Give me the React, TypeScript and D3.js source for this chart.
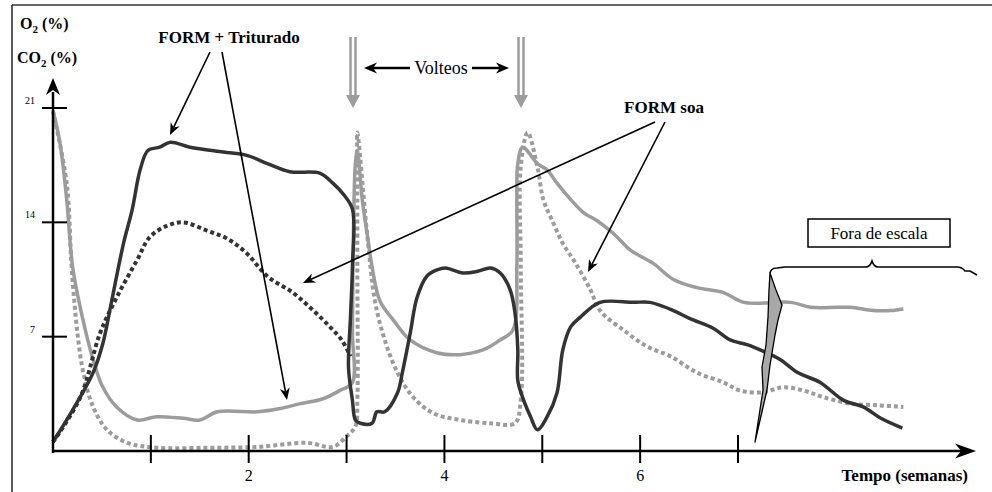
import * as d3 from "d3";

// Series values: [semana, %]
const trituradoCO2: [number, number][] = [
  [0, 0.55], [0.2, 2.5], [0.41, 4.8], [0.51, 6.6], [0.6, 9.2], [0.72, 12.7], [0.81, 14.8], [0.89, 17.2],
  [0.97, 18.4], [1.09, 18.6], [1.2, 18.9], [1.4, 18.6], [1.74, 18.3], [1.98, 18.1], [2.19, 17.6], [2.42, 17.1],
  [2.73, 17.0], [2.86, 16.4], [2.97, 15.7], [3.06, 14.8], [3.06, 11.3], [3.04, 8.2], [3.02, 5.1], [3.06, 3.1],
  [3.09, 1.9], [3.14, 1.7], [3.26, 1.7], [3.31, 2.4], [3.39, 2.4], [3.52, 3.55], [3.57, 4.8], [3.65, 7.2],
  [3.72, 9.4], [3.82, 10.7], [3.93, 11.1], [4.01, 11.2], [4.19, 10.9], [4.34, 11.0], [4.47, 11.2], [4.57, 10.9],
  [4.67, 9.9], [4.72, 8.5], [4.75, 6.2], [4.75, 4.3], [4.81, 3.1], [4.88, 2.1], [4.95, 1.3], [5.05, 2.1],
  [5.15, 3.55], [5.21, 6.2], [5.29, 7.6], [5.39, 8.2], [5.59, 9.1], [5.93, 9.1], [6.1, 9.1], [6.34, 8.6],
  [6.51, 8.1], [6.75, 7.5], [6.92, 6.8], [7.1, 6.5], [7.26, 6.1], [7.43, 5.6], [7.61, 4.8], [7.84, 4.2],
  [8.08, 3.1], [8.28, 2.7], [8.46, 2.0], [8.68, 1.4],
];

const soaCO2: [number, number][] = [
  [0, 0.55], [0.28, 3.3], [0.48, 7.2], [0.65, 9.4], [0.86, 11.7], [0.99, 13.1], [1.17, 13.8], [1.33, 14.0],
  [1.57, 13.5], [1.78, 13.0], [1.98, 12.1], [2.19, 10.7], [2.45, 9.7], [2.66, 8.6], [2.83, 7.6], [2.95, 6.8],
  [3.04, 5.8],
];

const trituradoO2: [number, number][] = [
  [0, 20.8], [0.07, 18.9], [0.14, 15.4], [0.2, 11.3], [0.3, 8.2], [0.41, 5.6], [0.51, 3.9], [0.65, 2.7],
  [0.86, 1.9], [1.06, 2.1], [1.33, 2.0], [1.5, 1.9], [1.68, 2.4], [2.09, 2.4], [2.32, 2.6], [2.53, 2.9],
  [2.76, 3.2], [2.93, 3.7], [3.06, 4.2], [3.06, 7.2], [3.07, 13.3], [3.09, 17.6], [3.11, 18.4], [3.16, 15.4],
  [3.21, 13.3], [3.26, 11.3], [3.34, 9.2], [3.48, 8.0], [3.65, 6.8], [3.93, 6.0], [4.16, 5.9], [4.4, 6.2],
  [4.57, 6.8], [4.7, 7.4], [4.74, 11.3], [4.74, 15.4], [4.75, 17.6], [4.8, 18.6], [4.95, 17.6], [5.05, 17.2],
  [5.15, 16.4], [5.29, 15.4], [5.42, 14.6], [5.56, 14.1], [5.73, 13.3], [5.9, 12.3], [6.13, 11.5], [6.34, 10.5],
  [6.58, 10.0], [6.85, 9.7], [7.06, 9.1], [7.54, 9.1], [7.74, 8.8], [8.02, 8.8], [8.15, 8.8], [8.38, 8.6],
  [8.56, 8.6], [8.69, 8.7],
];

const soaO2: [number, number][] = [
  [0, 20.8], [0.14, 16.4], [0.19, 11.3], [0.25, 7.2], [0.31, 4.8], [0.41, 2.7], [0.55, 1.3], [0.76, 0.5],
  [1.06, 0.2], [1.57, 0.2], [2.09, 0.25], [2.6, 0.5], [2.86, 0.25], [3.0, 0.9], [3.09, 1.5], [3.11, 3.1],
  [3.11, 11.3], [3.11, 17.4], [3.11, 19.5], [3.21, 13.3], [3.29, 9.2], [3.39, 6.8], [3.52, 4.8], [3.68, 3.3],
  [3.89, 2.3], [4.16, 1.9], [4.47, 1.7], [4.72, 1.7], [4.78, 3.1], [4.78, 11.3], [4.78, 17.4], [4.85, 19.5],
  [4.95, 17.4], [5.01, 15.4], [5.11, 14.0], [5.21, 12.7], [5.34, 11.5], [5.49, 9.9], [5.59, 8.6], [5.83, 7.4],
  [6.07, 6.4], [6.31, 5.8], [6.58, 4.8], [6.85, 4.2], [7.02, 3.7], [7.26, 3.6], [7.46, 3.9], [7.67, 3.7],
  [7.87, 3.3], [8.15, 2.9], [8.43, 2.8], [8.69, 2.7],
];

const xTicks = [1, 2, 3, 4, 5, 6, 7];
const xTickLabels = ["", "2", "", "4", "", "6", ""];
const yTicks = [7, 14, 21];
const yTickLabels = ["7", "14", "21"];

const DARK = "#333333";
const GRAY = "#9c9c9c";
const FONT = "'Liberation Serif', 'Times New Roman', serif";

// stealth arrowhead pointing from (x1,y1) to tip (x2,y2)
function arrowHead(x1: number, y1: number, x2: number, y2: number, len: number, w: number) {
  const a = Math.atan2(y2 - y1, x2 - x1);
  const ux = Math.cos(a), uy = Math.sin(a);
  const px = -uy, py = ux;
  const bx = x2 - ux * len, by = y2 - uy * len;
  const nx = x2 - ux * len * 0.7, ny = y2 - uy * len * 0.7;
  return `M${x2},${y2}L${bx + px * w / 2},${by + py * w / 2}L${nx},${ny}L${bx - px * w / 2},${by - py * w / 2}Z`;
}

function Arrow({ x1, y1, x2, y2, len = 12, w = 10, sw = 1.6 }: any) {
  const a = Math.atan2(y2 - y1, x2 - x1);
  const ex = x2 - Math.cos(a) * len * 0.7, ey = y2 - Math.sin(a) * len * 0.7;
  return (
    <g>
      <line x1={x1} y1={y1} x2={ex} y2={ey} stroke="#000" strokeWidth={sw} />
      <path d={arrowHead(x1, y1, x2, y2, len, w)} fill="#000" />
    </g>
  );
}

function TurnArrow({ cx }: { cx: number }) {
  return (
    <g>
      <line x1={cx - 2.5} y1={37} x2={cx - 2.5} y2={97} stroke={GRAY} strokeWidth={2.5} />
      <line x1={cx + 2.5} y1={37} x2={cx + 2.5} y2={97} stroke={GRAY} strokeWidth={2.5} />
      <path d={`M${cx - 7},95L${cx + 7},95L${cx},108Z`} fill={GRAY} />
    </g>
  );
}

export default function App() {
  const x = d3.scaleLinear().domain([0, 7]).range([53, 738]);
  const y = d3.scaleLinear().domain([0, 21]).range([451, 108]);
  const line = d3
    .line<[number, number]>()
    .x((d) => x(d[0]))
    .y((d) => y(d[1]))
    .curve(d3.curveCatmullRom.alpha(0.5));

  const x0 = x(0);
  const y0 = y(0);

  return (
    <svg
      width={992}
      height={492}
      style={{ position: "absolute", left: 0, top: 0, background: "#fff" }}
      fontFamily={FONT}
    >
      {/* frame */}
      <line x1={12} y1={5} x2={992} y2={5} stroke="#666" strokeWidth={2} />
      <line x1={12} y1={5} x2={12} y2={492} stroke="#222" strokeWidth={1.5} />

      {/* curves */}
      <path d={line(soaO2) || ""} fill="none" stroke={GRAY} strokeWidth={4} strokeDasharray="4 3" />
      <path d={line(trituradoO2) || ""} fill="none" stroke={GRAY} strokeWidth={3.5} strokeLinejoin="round" />
      <path d={line(soaCO2) || ""} fill="none" stroke={DARK} strokeWidth={4} strokeDasharray="4 3" />
      <path d={line(trituradoCO2) || ""} fill="none" stroke={DARK} strokeWidth={3.5} strokeLinejoin="round" />

      {/* axes */}
      <line x1={x0} y1={y0 + 2} x2={x0} y2={92} stroke="#000" strokeWidth={2.5} />
      <path d={arrowHead(x0, 200, x0, 78, 17, 14)} fill="#000" />
      <line x1={x0 - 1} y1={y0} x2={962} y2={y0} stroke="#000" strokeWidth={2.5} />
      <path d={arrowHead(800, y0, 976, y0, 21, 15)} fill="#000" />

      {yTicks.map((t, i) => (
        <g key={t}>
          <line x1={x0 - 11} y1={y(t)} x2={x0 + 14} y2={y(t)} stroke="#000" strokeWidth={2} />
          <text x={x0 - 18} y={y(t) - 4} fontSize={10} textAnchor="end">{yTickLabels[i]}</text>
        </g>
      ))}
      {xTicks.map((t, i) => (
        <g key={t}>
          <line x1={x(t)} y1={y0 - 16} x2={x(t)} y2={y0 + 12} stroke="#000" strokeWidth={2} />
          <text x={x(t)} y={y0 + 30} fontSize={16} textAnchor="middle">{xTickLabels[i]}</text>
        </g>
      ))}

      {/* axis titles */}
      <text x={20} y={29} fontSize={16} fontWeight="bold">
        O<tspan fontSize={11} dy={4}>2</tspan><tspan dy={-4}> (%)</tspan>
      </text>
      <text x={17} y={63} fontSize={16} fontWeight="bold">
        CO<tspan fontSize={11} dy={4}>2</tspan><tspan dy={-4}> (%)</tspan>
      </text>
      <text x={968} y={481} fontSize={17} fontWeight="bold" textAnchor="end">Tempo (semanas)</text>

      {/* annotations */}
      <text x={229} y={43} fontSize={17} fontWeight="bold" textAnchor="middle">FORM + Triturado</text>
      <Arrow x1={210} y1={52} x2={170} y2={135} />
      <Arrow x1={222} y1={52} x2={287} y2={400} />

      <text x={664} y={113} fontSize={17} fontWeight="bold" textAnchor="middle">FORM soa</text>
      <Arrow x1={655} y1={122} x2={303} y2={283} />
      <Arrow x1={665} y1={122} x2={588} y2={272} />

      <TurnArrow cx={353} />
      <TurnArrow cx={521} />
      <text x={441} y={74} fontSize={18} textAnchor="middle">Volteos</text>
      <Arrow x1={410} y1={68} x2={364} y2={68} len={13} w={11} sw={2.5} />
      <Arrow x1={472} y1={68} x2={509} y2={68} len={13} w={11} sw={2.5} />

      {/* fora de escala */}
      <rect x={808} y={219} width={142} height={28} fill="#fff" stroke="#000" strokeWidth={1.5} />
      <text x={879} y={239} fontSize={17} textAnchor="middle">Fora de escala</text>
      <path
        d="M770,273 Q771,268 777,268 L785,267 L866,267 Q870,267 872,261 Q874,267 878,267 L957,267 Q962,267 965,271 L970,271 L977,275"
        fill="none"
        stroke="#000"
        strokeWidth={1.6}
      />
      <path
        d="M770,273 L776,290 L782,305 L778,320 L775,335 L770,365 L767,390 L755,442 L763,390 L762,367 L766,345 L768,317 L769,290 Z"
        fill="#a8a8a8"
        stroke="#000"
        strokeWidth={1.3}
        strokeLinejoin="round"
      />
    </svg>
  );
}
